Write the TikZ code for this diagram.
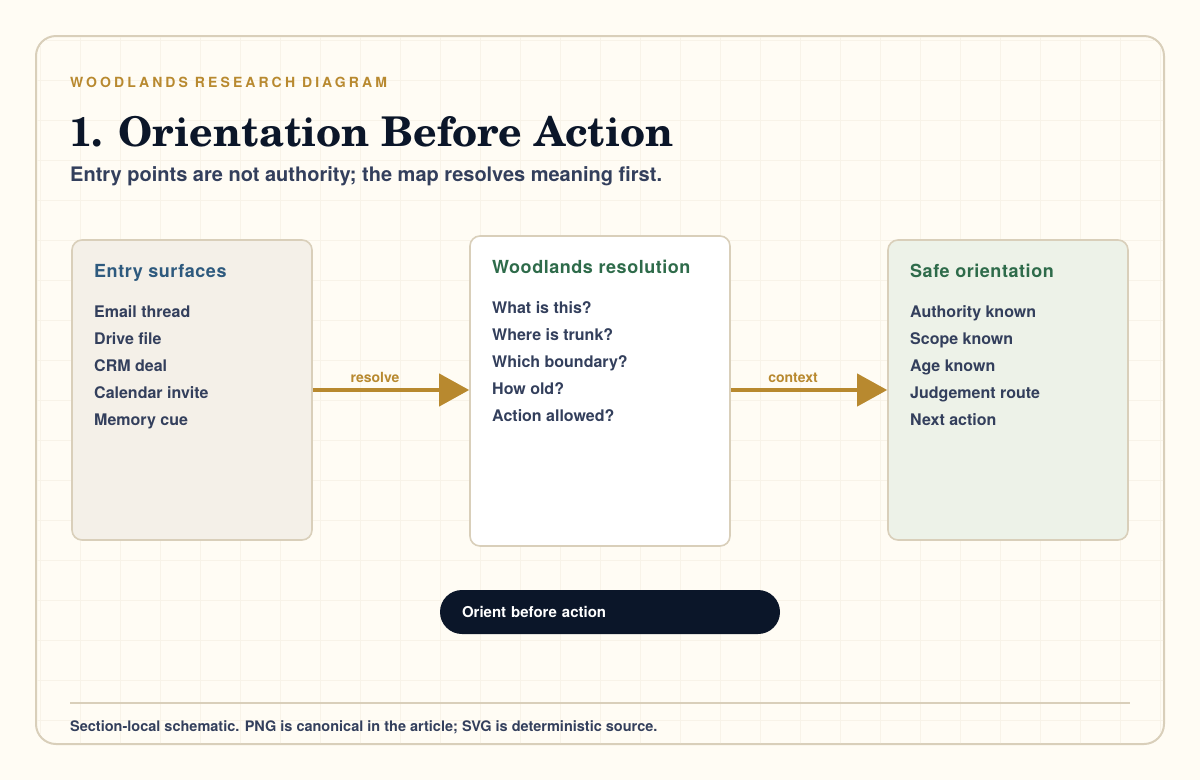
\documentclass[tikz,border=0pt]{standalone}
\usepackage{fontspec}
\setmainfont{TeX Gyre Heros}
\newfontfamily\titlefont{TeX Gyre Schola}
\newfontfamily\kickerfont{TeX Gyre Heros}[LetterSpace=22]
\newfontfamily\headfont{TeX Gyre Heros}[LetterSpace=3]
\usetikzlibrary{arrows.meta}
\definecolor{paper}{HTML}{FFFCF4}
\definecolor{edge}{HTML}{D9CFBA}
\definecolor{gridc}{HTML}{F8F3E8}
\definecolor{gold}{HTML}{B8892F}
\definecolor{ink}{HTML}{0B1629}
\definecolor{slate}{HTML}{333F5C}
\definecolor{headblue}{HTML}{2E5A7E}
\definecolor{headgreen}{HTML}{2E6B4A}
\definecolor{entryfill}{HTML}{F4F0E8}
\definecolor{safefill}{HTML}{EDF2E8}
\tikzset{
  frame/.style={draw=edge, fill=paper, line width=2pt, rounded corners=20pt, minimum width=1128, minimum height=708},
  gridline/.style={draw=gridc, line width=0.8pt},
  panel/.style={draw=edge, line width=1.6pt, rounded corners=10pt, minimum width=240, minimum height=300},
  paneltitle/.style={anchor=base west, inner sep=0, font=\headfont\bfseries\fontsize{18}{21}\selectfont},
  itemtext/.style={anchor=base west, inner sep=0, text=slate, font=\bfseries\fontsize{16}{19}\selectfont},
  flow/.style={draw=gold, line width=4pt, -{Triangle[length=30pt,width=32pt]}},
  flowlabel/.style={anchor=base, inner sep=0, text=gold, font=\bfseries\fontsize{14}{16}\selectfont},
  pill/.style={fill=ink, rounded corners=22pt, minimum height=44, inner xsep=22pt, text width=296pt, align=left, text=white, font=\bfseries\fontsize{15}{17}\selectfont},
  rule/.style={draw=edge, line width=2pt}
}

\begin{document}
\begin{tikzpicture}[x=1pt,y=-1pt]
\fill[paper] (0,0) rectangle (1200,780);
\useasboundingbox (0,0) rectangle (1200,780);
\node[frame](frame) at (600,390) {};
\begin{scope}
\clip[rounded corners=20pt] (37,37) rectangle (1163,743);
\foreach \gx in {40,80,...,1160} \draw[gridline] (\gx,0) -- (\gx,780);
\foreach \gy in {40,80,...,760} \draw[gridline] (0,\gy) -- (1200,\gy);
\end{scope}

\node[anchor=base west, inner sep=0, text=gold, font=\kickerfont\bfseries\fontsize{14}{16}\selectfont](kicker) at (70,87) {WOODLANDS RESEARCH DIAGRAM};
\node[anchor=base west, inner sep=0, text=ink, font=\titlefont\bfseries\fontsize{41}{45}\selectfont](title) at (69,146) {1. Orientation Before Action};
\node[anchor=base west, inner sep=0, text=slate, font=\bfseries\fontsize{20}{23}\selectfont](subtitle) at (70,181) {Entry points are not authority; the map resolves meaning first.};

\node[panel, fill=entryfill](entry) at (192,390) {};
\node[panel, fill=white, minimum width=260, minimum height=310](resolution) at (600,391) {};
\node[panel, fill=safefill](safe) at (1008,390) {};

\node[paneltitle, text=headblue](entry_title) at (94,277) {Entry surfaces};
\foreach \txt [count=\i] in {Email thread, Drive file, CRM deal, Calendar invite, Memory cue}
  \node[itemtext](entry_\i) at (94,290+27*\i) {\txt};
\node[paneltitle, text=headgreen](resolution_title) at (492,273) {Woodlands resolution};
\foreach \txt [count=\i] in {What is this?, Where is trunk?, Which boundary?, How old?, Action allowed?}
  \node[itemtext](resolution_\i) at (492,286+27*\i) {\txt};
\node[paneltitle, text=headgreen](safe_title) at (910,277) {Safe orientation};
\foreach \txt [count=\i] in {Authority known, Scope known, Age known, Judgement route, Next action}
  \node[itemtext](safe_\i) at (910,290+27*\i) {\txt};

\draw[flow](entry.east) to (resolution.west |- entry.east);
\node[flowlabel](resolve) at (375,382) {resolve};
\draw[flow](resolution.east |- safe.west) to (safe.west);
\node[flowlabel](context) at (793,382) {context};

\node[pill](motto) at (610,612) {Orient before action};

\coordinate (rule_l) at (70,703);
\coordinate (rule_r) at (1130,703);
\draw[rule](rule_l) -- (rule_r);
\node[anchor=base west, inner sep=0, text=slate, font=\bfseries\fontsize{14.5}{17}\selectfont](footer) at (70,731) {Section-local schematic. PNG is canonical in the article; SVG is deterministic source.};
\end{tikzpicture}
\end{document}
